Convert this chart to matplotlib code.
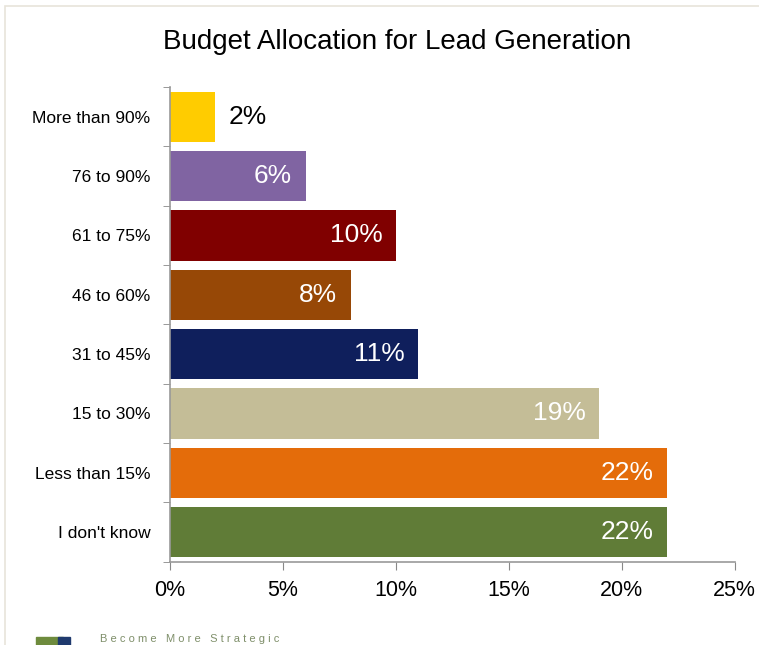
import matplotlib.pyplot as plt
from matplotlib.patches import Rectangle

plt.rcParams['font.family'] = ['Liberation Sans', 'DejaVu Sans']

# data, top to bottom as in the chart
categories = ['More than 90%', '76 to 90%', '61 to 75%', '46 to 60%',
              '31 to 45%', '15 to 30%', 'Less than 15%', "I don't know"]
values = [2, 6, 10, 8, 11, 19, 22, 22]
colors = ['#FFCC00', '#8064A2', '#800000', '#974806',
          '#0F1F5C', '#C4BD97', '#E46C0A', '#607C37']
xticks = [0, 5, 10, 15, 20, 25]

fig = plt.figure(figsize=(7.59, 6.45), dpi=100)
ax = fig.add_axes([0.224, 0.129, 0.744, 0.736])

ypos = list(range(len(categories)))[::-1]
ax.barh(ypos, values, height=0.85, color=colors)

for y, v in zip(ypos, values):
    if v < 4:
        ax.text(v + 0.6, y, f'{v}%', ha='left', va='center',
                fontsize=19, color='black')
    else:
        ax.text(v - 0.6, y, f'{v}%', ha='right', va='center',
                fontsize=19, color='white')

ax.set_xlim(0, 25)
ax.set_ylim(-0.5, len(categories) - 0.5)
ax.set_xticks(xticks)
ax.set_xticklabels([f'{t}%' for t in xticks], fontsize=15.5)

# category labels centred, tick marks at boundaries
ax.set_yticks(ypos)
ax.set_yticklabels(categories, fontsize=12.5)
ax.set_yticks([i - 0.5 for i in range(len(categories) + 1)], minor=True)
ax.tick_params(axis='y', which='major', length=0, pad=14)
ax.tick_params(axis='y', which='minor', length=5, color='#888888')
ax.tick_params(axis='x', length=6, color='#888888', pad=7)

for s in ['top', 'right']:
    ax.spines[s].set_visible(False)
for s in ['left', 'bottom']:
    ax.spines[s].set_color('#999999')
    ax.spines[s].set_linewidth(1.2)

fig.text(0.523, 0.935, 'Budget Allocation for Lead Generation',
         ha='center', va='center', fontsize=20)

# slide frame and footer logo
fig.patches.append(Rectangle((0.006, -0.05), 1.1, 1.04,
                             transform=fig.transFigure, fill=False,
                             edgecolor='#E8E4DA', linewidth=1.2))
fig.patches.append(Rectangle((0.048, -0.01), 0.035, 0.022,
                             transform=fig.transFigure, color='#6E8B3D'))
fig.patches.append(Rectangle((0.076, -0.01), 0.016, 0.022,
                             transform=fig.transFigure, color='#1F3A6E'))
fig.text(0.132, 0.001, 'B e c o m e   M o r e   S t r a t e g i c',
         ha='left', va='bottom', fontsize=8, color='#7F8F6A')

fig.savefig('out.png', dpi=100)
